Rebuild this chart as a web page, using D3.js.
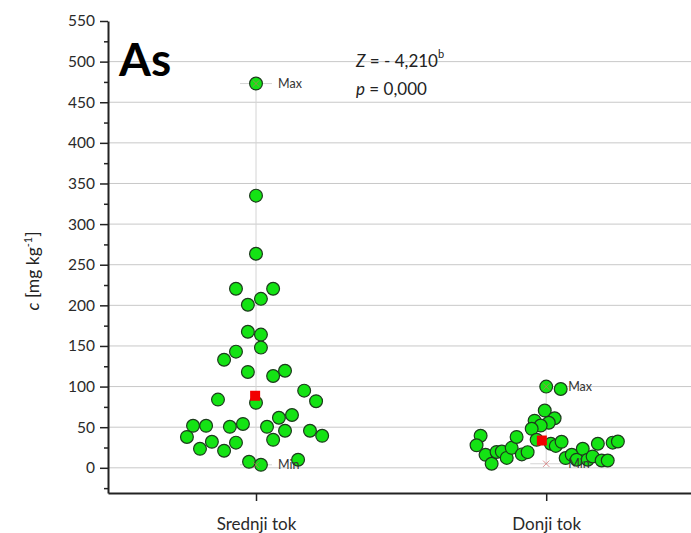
<!DOCTYPE html>
<html>
<head>
<meta charset="utf-8">
<script src="https://cdn.jsdelivr.net/npm/d3@7"></script>
<style>
  body { margin: 0; background: #fff; }
  text { font-family: Lato, "Open Sans", sans-serif; }
</style>
</head>
<body>
<div id="chart"></div>
<script>
// categories and values
const categories = ["Srednji tok", "Donji tok"];

const srednjiValues = [473, 335, 263.5, 220.4, 220.4, 208, 200.7, 167.5, 164, 148, 143, 133, 118, 113, 119.5,
  95, 82, 84, 80, 51.7, 51.7, 38, 23.4, 32, 21, 31, 50.5, 54, 7.4, 3.7, 50.5, 34.5, 61.6, 65, 45.6, 45.6, 39.4, 9.9];
const srednjiJitter = [0, 0, 0, -0.069, 0.059, 0.017, -0.028, -0.028, 0.017, 0.017, -0.069, -0.11, -0.028, 0.059, 0.1,
  0.166, 0.207, -0.131, 0, -0.217, -0.172, -0.238, -0.193, -0.152, -0.11, -0.069, -0.09, -0.045, -0.024, 0.017, 0.038,
  0.059, 0.079, 0.124, 0.1, 0.186, 0.228, 0.145];

const donjiValues = [100, 97, 70.5, 61, 58, 55.5, 52, 48, 34.5, 29.6, 27, 32, 39.5, 27.7, 16, 5, 19.5, 20, 12.2,
  24.6, 38, 16.5, 19.3, 12, 16, 10, 23.4, 10, 14, 29.6, 9, 9, 31, 32.4];
const donjiJitter = [0, 0.05, -0.005, 0.029, -0.04, 0.009, -0.019, -0.05, -0.033, 0.016, 0.033, 0.053, -0.226, -0.24,
  -0.209, -0.188, -0.171, -0.153, -0.136, -0.119, -0.102, -0.084, -0.064, 0.067, 0.088, 0.105, 0.126, 0.143, 0.16,
  0.178, 0.191, 0.212, 0.229, 0.247];

const meanValues = [88.7, 33.6];
const meanJitter = [-0.003, -0.015];
const minValues = [3.7, 5];
const maxValues = [473, 100];

const yTicks = [0, 50, 100, 150, 200, 250, 300, 350, 400, 450, 500, 550];
const yMinorTicks = [-25, 25, 75, 125, 175, 225, 275, 325, 375, 425, 475, 525];

// set the dimensions of the graph
const width = 691, height = 533;
const plotLeft = 108, plotRight = 691.3, plotTop = 21, plotBottom = 493;

const svg = d3.select("#chart")
  .append("svg")
  .attr("width", width)
  .attr("height", height);

const x = d3.scaleLinear().domain([0.49, 2.5]).range([plotLeft, plotRight]);
const y = d3.scaleLinear().domain([-31, 550]).range([plotBottom, plotTop]);

// grid lines
svg.append("g")
  .selectAll("line")
  .data(yTicks.filter(d => d < 550))
  .join("line")
  .attr("x1", plotLeft)
  .attr("x2", width)
  .attr("y1", d => y(d))
  .attr("y2", d => y(d))
  .attr("stroke", "#c8c8c8")
  .attr("stroke-width", 1);

// whiskers min..max
const groups = categories.map((c, i) => ({ pos: i + 1, min: minValues[i], max: maxValues[i], mean: meanValues[i], mj: meanJitter[i] }));

svg.append("g")
  .selectAll("line")
  .data(groups)
  .join("line")
  .attr("x1", d => x(d.pos))
  .attr("x2", d => x(d.pos))
  .attr("y1", d => y(d.min))
  .attr("y2", d => y(d.max))
  .attr("stroke", "#d4d4d4")
  .attr("stroke-width", 1);

const caps = groups.flatMap(d => [{ pos: d.pos, v: d.min }, { pos: d.pos, v: d.max }]);
svg.append("g")
  .selectAll("line")
  .data(caps)
  .join("line")
  .attr("x1", d => x(d.pos - 0.055))
  .attr("x2", d => x(d.pos + 0.055))
  .attr("y1", d => y(d.v))
  .attr("y2", d => y(d.v))
  .attr("stroke", "#d4d4d4")
  .attr("stroke-width", 1);

// data points
const points = srednjiValues.map((v, i) => ({ pos: 1 + srednjiJitter[i], v: v }))
  .concat(donjiValues.map((v, i) => ({ pos: 2 + donjiJitter[i], v: v })));

svg.append("g")
  .selectAll("circle")
  .data(points)
  .join("circle")
  .attr("cx", d => x(d.pos))
  .attr("cy", d => y(d.v))
  .attr("r", 6.4)
  .attr("fill", "#14e314")
  .attr("stroke", "#1d3b1d")
  .attr("stroke-width", 1.2);

// min / max markers
svg.append("g")
  .selectAll("path")
  .data(caps)
  .join("path")
  .attr("transform", d => `translate(${x(d.pos)},${y(d.v)})`)
  .attr("d", d3.symbol().type(d3.symbolX).size(28))
  .attr("fill", "none")
  .attr("stroke", "#d06868")
  .attr("stroke-opacity", 0.7)
  .attr("stroke-width", 1);

// mean squares
svg.append("g")
  .selectAll("rect")
  .data(groups)
  .join("rect")
  .attr("x", d => x(d.pos + d.mj) - 5)
  .attr("y", d => y(d.mean) - 5)
  .attr("width", 10)
  .attr("height", 10)
  .attr("fill", "#f20000");

// Max / Min labels
svg.append("g")
  .selectAll("text")
  .data(caps.map((d, i) => ({ ...d, label: i % 2 ? "Max" : "Min" })))
  .join("text")
  .attr("x", d => x(d.pos) + 22)
  .attr("y", d => y(d.v) + 4.5)
  .attr("font-size", 12.5)
  .attr("fill", "#333")
  .text(d => d.label);

// Y axis
svg.append("g")
  .attr("transform", `translate(${plotLeft},0)`)
  .call(d3.axisLeft(y).tickValues(yMinorTicks).tickSize(4).tickSizeOuter(0).tickFormat(""))
  .call(g => g.select(".domain").remove())
  .call(g => g.selectAll("line").attr("stroke", "#222").attr("stroke-width", 1.5));

svg.append("g")
  .attr("transform", `translate(${plotLeft},0)`)
  .call(d3.axisLeft(y).tickValues(yTicks).tickSize(8).tickSizeOuter(0).tickPadding(5))
  .call(g => g.select(".domain").attr("stroke", "#222").attr("stroke-width", 2))
  .call(g => g.selectAll("line").attr("stroke", "#222").attr("stroke-width", 1.5))
  .call(g => g.selectAll("text").attr("font-size", 15.5).attr("fill", "#2a2a2a").style("font-family", "Lato"));

// X axis
svg.append("g")
  .attr("transform", `translate(0,${plotBottom})`)
  .call(d3.axisBottom(x).tickValues([1, 2]).tickFormat((d, i) => categories[i]).tickSize(8).tickSizeOuter(0).tickPadding(17))
  .call(g => g.select(".domain").attr("stroke", "#222").attr("stroke-width", 2))
  .call(g => g.selectAll("line").attr("stroke", "#222").attr("stroke-width", 1.5))
  .call(g => g.selectAll("text").attr("font-size", 17).attr("fill", "#2a2a2a").style("font-family", "Lato"));

// Y axis title
const yTitle = svg.append("text")
  .attr("transform", "translate(39,271) rotate(-90)")
  .attr("text-anchor", "middle")
  .attr("font-size", 17.5)
  .attr("fill", "#222");
yTitle.append("tspan").attr("font-style", "italic").text("c");
yTitle.append("tspan").text(" [mg kg");
yTitle.append("tspan").attr("font-size", 11).attr("dy", -7).text("-1");
yTitle.append("tspan").attr("dy", 7).text("]");

// element label
svg.append("text")
  .attr("x", 119)
  .attr("y", 76)
  .attr("font-size", 46)
  .attr("font-weight", "bold")
  .attr("fill", "#000")
  .text("As");

// test statistic
const zText = svg.append("text")
  .attr("x", 356)
  .attr("y", 67)
  .attr("font-size", 17)
  .attr("fill", "#222");
zText.append("tspan").attr("font-style", "italic").text("Z");
zText.append("tspan").text(" = - 4,210");
zText.append("tspan").attr("font-size", 11).attr("dy", -9).text("b");

const pText = svg.append("text")
  .attr("x", 356)
  .attr("y", 95)
  .attr("font-size", 17)
  .attr("fill", "#222");
pText.append("tspan").attr("font-style", "italic").text("p");
pText.append("tspan").text(" = 0,000");
</script>
</body>
</html>
